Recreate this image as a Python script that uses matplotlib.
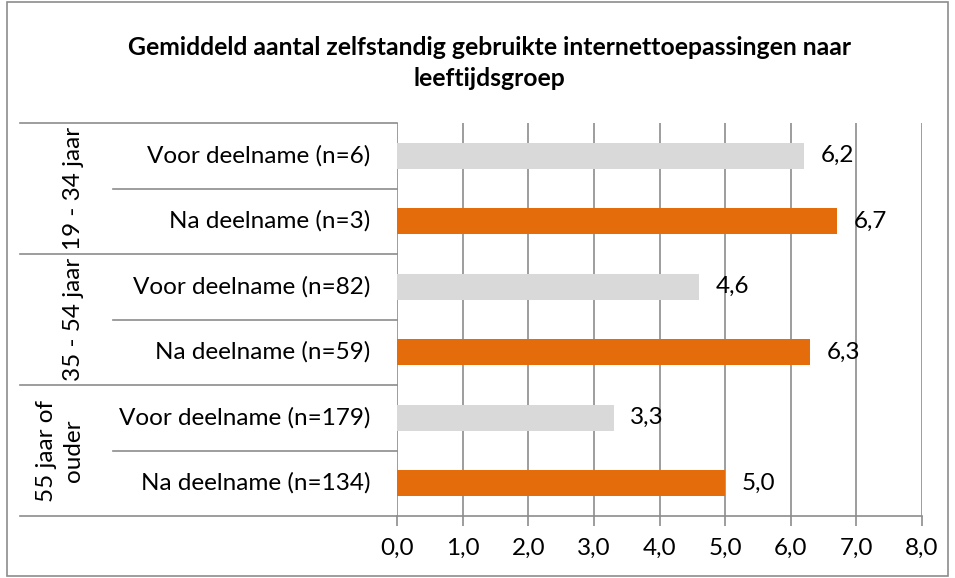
import matplotlib
matplotlib.use('Agg')
import matplotlib.pyplot as plt
import matplotlib.transforms as mtransforms
from matplotlib.patches import Rectangle

plt.rcParams['font.family'] = ['Lato', 'DejaVu Sans']

title = 'Gemiddeld aantal zelfstandig gebruikte internettoepassingen naar\nleeftijdsgroep'
groups = ['19 - 34 jaar', '35 - 54 jaar', '55 jaar of\nouder']
categories = ['Voor deelname (n=6)', 'Na deelname (n=3)',
              'Voor deelname (n=82)', 'Na deelname (n=59)',
              'Voor deelname (n=179)', 'Na deelname (n=134)']
values = [6.2, 6.7, 4.6, 6.3, 3.3, 5.0]
xticks = [0, 1, 2, 3, 4, 5, 6, 7, 8]

W, H = 955, 578
GRAY = '#D9D9D9'
ORANGE = '#E46C0A'
LINE = '#8C8C8C'
FS = 17.5

fig = plt.figure(figsize=(W / 100, H / 100), dpi=100)
fig.patches.append(Rectangle((7 / W, 2 / H), (948 - 7) / W, (576 - 2) / H,
                             transform=fig.transFigure, fill=False,
                             edgecolor=LINE, linewidth=1.2))

left, right, top, bottom = 397, 922, 123, 516
ax = fig.add_axes([left / W, (H - bottom) / H, (right - left) / W, (bottom - top) / H])

colors = [GRAY if i % 2 == 0 else ORANGE for i in range(len(values))]
ypos = list(range(len(values)))
ax.barh(ypos, values, height=0.4, color=colors, zorder=3)

for y, v in zip(ypos, values):
    ax.annotate('{:.1f}'.format(v).replace('.', ','), xy=(v, y), xytext=(12, 0),
                textcoords='offset points', va='center', ha='left', fontsize=FS)

ax.set_xlim(0, 8)
ax.set_ylim(len(values) - 0.5, -0.5)
ax.set_xticks(xticks)
ax.set_xticklabels(['{:.1f}'.format(t).replace('.', ',') for t in xticks], fontsize=FS)
ax.set_yticks([])
ax.tick_params(axis='x', length=7, width=1.2, color=LINE, pad=9)
ax.grid(axis='x', color=LINE, linewidth=1.2, zorder=0)

for s in ['top', 'right', 'left']:
    ax.spines[s].set_visible(False)
ax.spines['bottom'].set_color(LINE)
ax.spines['bottom'].set_linewidth(1.2)

# category / group labels with separator lines
trans = mtransforms.blended_transform_factory(ax.transAxes, ax.transData)
px = 1.0 / (right - left)
x_outer = (20 - left) * px
x_inner = (113 - left) * px
for y, c in zip(ypos, categories):
    ax.text((370 - left) * px, y, c, transform=trans, ha='right', va='center', fontsize=FS)

for i in range(len(values) + 1):
    yb = i - 0.5
    x0 = x_outer if i % 2 == 0 else x_inner
    ax.plot([x0, 0], [yb, yb], transform=trans, color=LINE, linewidth=1.2,
            clip_on=False, zorder=1)

for g, name in enumerate(groups):
    ax.text((84 - left) * px, 2 * g + 0.5, name, transform=trans, rotation=90,
            ha='right', va='center', fontsize=FS, multialignment='center',
            linespacing=1.35)

fig.text(489 / W, 1 - 63 / H, title, ha='center', va='center', fontsize=17.8,
         fontweight='bold', linespacing=1.45)

fig.savefig('out.png', dpi=100)
